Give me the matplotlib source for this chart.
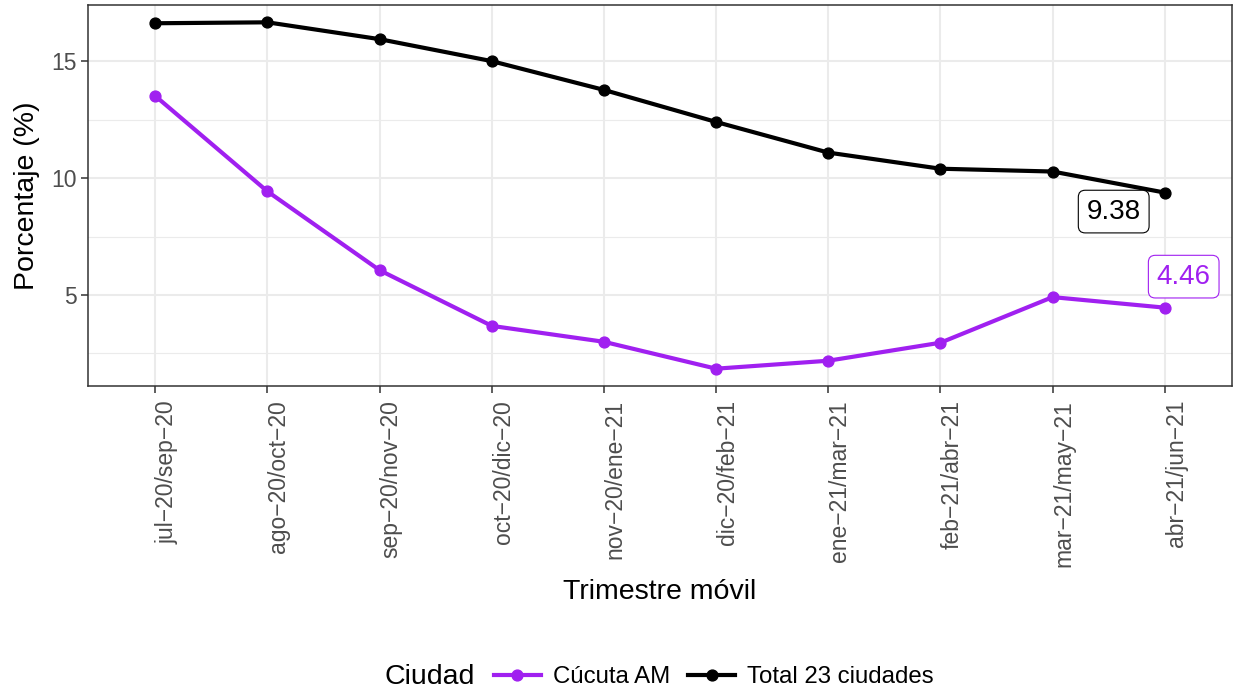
import numpy as np
import matplotlib.pyplot as plt
from matplotlib.lines import Line2D

plt.rcParams['font.family'] = ['Liberation Sans', 'DejaVu Sans']

# Datos: porcentaje por trimestre movil
trimestres = ['jul−20/sep−20', 'ago−20/oct−20', 'sep−20/nov−20', 'oct−20/dic−20',
              'nov−20/ene−21', 'dic−20/feb−21', 'ene−21/mar−21', 'feb−21/abr−21',
              'mar−21/may−21', 'abr−21/jun−21']
cucuta = [13.51, 9.43, 6.06, 3.68, 3.00, 1.85, 2.19, 2.96, 4.91, 4.46]
total23 = [16.62, 16.66, 15.94, 15.00, 13.77, 12.40, 11.09, 10.40, 10.28, 9.38]
ciudades = ['Cúcuta AM', 'Total 23 ciudades']
colores = ['#A020F0', '#000000']

fig = plt.figure(figsize=(12.35, 6.92), dpi=100)
ax = fig.add_axes([88 / 1235, 1 - 386 / 692, 1144 / 1235, 381 / 692])

x = np.arange(len(trimestres))
for serie, nombre, color in zip([cucuta, total23], ciudades, colores):
    ax.plot(x, serie, color=color, lw=3.0, marker='o', ms=7.8, label=nombre,
            solid_capstyle='butt', zorder=3)

# etiquetas del ultimo valor
ax.annotate(f'{total23[-1]:.2f}', (x[-1], total23[-1]), xytext=(-51, -19),
            textcoords='offset pixels', ha='center', va='center', fontsize=20,
            color='black', zorder=5,
            bbox=dict(boxstyle='round,pad=0.3,rounding_size=0.25', fc='white',
                      ec='black', lw=0.8))
ax.annotate(f'{cucuta[-1]:.2f}', (x[-1], cucuta[-1]), xytext=(19, 31),
            textcoords='offset pixels', ha='center', va='center', fontsize=20,
            color=colores[0], zorder=5,
            bbox=dict(boxstyle='round,pad=0.3,rounding_size=0.25', fc='white',
                      ec=colores[0], lw=0.8))

# escalas
todos = cucuta + total23
rango = max(todos) - min(todos)
ax.set_ylim(min(todos) - 0.05 * rango, max(todos) + 0.05 * rango)
ax.set_xlim(-0.6, len(trimestres) - 0.4)
ax.set_yticks([5, 10, 15])
ax.set_yticks([2.5, 7.5, 12.5], minor=True)
ax.set_xticks(x)
ax.set_xticklabels(trimestres, rotation=90, ha='left', va='top')

# estilo tipo theme_bw
ax.grid(True, which='major', color='#EBEBEB', lw=1.5)
ax.grid(True, which='minor', axis='y', color='#EBEBEB', lw=0.8)
ax.set_axisbelow(True)
for s in ax.spines.values():
    s.set_color('#333333')
    s.set_linewidth(1.1)
ax.tick_params(axis='both', which='major', colors='#333333', labelcolor='#4D4D4D',
               labelsize=16.5, length=5, width=1.1, pad=3)
ax.tick_params(axis='x', which='major', pad=5)
ax.tick_params(axis='y', which='minor', length=0)

ax.set_xlabel('Trimestre móvil', fontsize=20.5, va='center')
ax.set_ylabel('Porcentaje (%)', fontsize=20.5, va='center')
ax.xaxis.set_label_coords(0.5, -(592 - 386) / 381)
ax.yaxis.set_label_coords(-(88 - 27) / 1144, 0.5)

# leyenda
fig.text(385 / 1235, 1 - 677 / 692, 'Ciudad', fontsize=20.5, ha='left', va='center')
handles = [Line2D([], [], color=c, lw=3.0, marker='o', ms=7.8) for c in colores]
fig.legend(handles, ciudades, loc='center left', bbox_to_anchor=(494 / 1235, 1 - 677 / 692),
           ncol=2, frameon=False, fontsize=17.3, handlelength=1.95, handletextpad=0.5,
           columnspacing=0.75, borderaxespad=0, borderpad=0)

fig.savefig('out.png', dpi=100)
